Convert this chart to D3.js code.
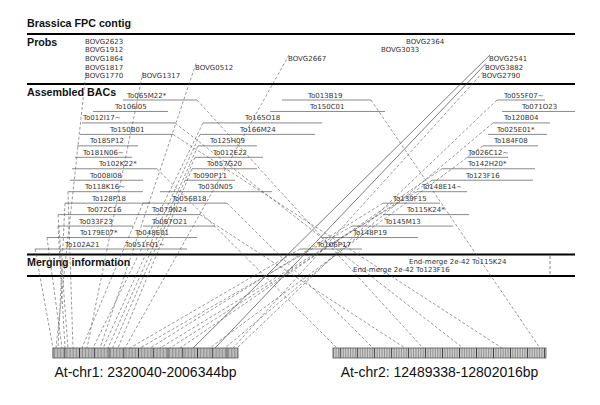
<!DOCTYPE html>
<html><head><meta charset="utf-8">
<script src="https://cdn.jsdelivr.net/npm/d3@7/dist/d3.min.js"></script>
<style>body{margin:0;background:#fff}</style>
</head><body>
<svg id="c" width="600" height="405"></svg>
<script>
// ---------------- data ----------------
const title = "Brassica FPC contig";
const sections = ["Probs", "Assembled BACs", "Merging information"];
const contigLength = 1096; // contig units (CB)

// probes: name, row, contig position
const probes = [
  ["BOVG2623", 0, 116], ["BOVG1912", 1, 116], ["BOVG1864", 2, 116],
  ["BOVG1817", 3, 116], ["BOVG1770", 4, 116], ["BOVG1317", 4, 230],
  ["BOVG0512", 3, 336], ["BOVG2667", 2, 522], ["BOVG2364", 0, 758],
  ["BOVG3033", 1, 708], ["BOVG2541", 2, 924], ["BOVG3882", 3, 916],
  ["BOVG2790", 4, 910]
];

// BACs: name, row, start, end, label position
const bacs = [
  ["To065M22*", 0, 192, 340, 200], ["To013B19", 0, 510, 688, 562], ["To055F07~", 0, 940, 1036, 954],
  ["To106I05", 1, 132, 282, 176], ["To150C01", 1, 486, 716, 566], ["To071O23", 1, 950, 1096, 990],
  ["To012I17~", 2, 110, 296, 112], ["To165O18", 2, 352, 590, 436], ["To120B04", 2, 932, 1046, 954],
  ["To150B01", 3, 106, 292, 166], ["To166M24", 3, 346, 576, 426], ["To025E01*", 3, 922, 1040, 940],
  ["To185P12", 4, 100, 222, 126], ["To125H09", 4, 342, 460, 366], ["To184F08", 4, 912, 1022, 934],
  ["To181N06~", 5, 96, 210, 112], ["To012E22", 5, 336, 472, 372], ["To026C12~", 5, 880, 962, 882],
  ["To102K22*", 6, 90, 260, 144], ["To057G20", 6, 330, 460, 360], ["To142H20*", 6, 830, 1016, 882],
  ["To008I08", 7, 86, 232, 126], ["To090P11", 7, 316, 416, 332], ["To123F16", 7, 810, 1012, 878],
  ["To118K16~", 8, 82, 232, 116], ["To030N05", 8, 266, 490, 342], ["To148E14~", 8, 780, 880, 790],
  ["To128P18", 9, 76, 246, 130], ["To056B18", 9, 232, 400, 290], ["To139F15", 9, 712, 826, 732],
  ["To072C16", 10, 62, 206, 120], ["To079N24", 10, 206, 346, 250], ["To115K24*", 10, 712, 884, 760],
  ["To033F23", 11, 62, 212, 104], ["To087O21", 11, 232, 376, 250], ["To145M13", 11, 650, 852, 716],
  ["To179E07*", 12, 40, 186, 106], ["To048E01", 12, 186, 340, 216], ["To148P19", 12, 592, 782, 652],
  ["To102A21", 13, 16, 166, 76], ["To051F01~", 13, 166, 320, 196], ["To106P17", 13, 546, 670, 580]
];

// merging information: text, row, label position
const merges = [
  ["End-merge 2e-42 To115K24", 0, 764],
  ["End-merge 2e-42 To123F16", 1, 652]
];
const mergeMarker = 1046;

// chromosomes: name, start bp, end bp
const chromosomes = [
  ["At-chr1", 2320040, 2006344],
  ["At-chr2", 12489338, 12802016]
];

// links: source, end (P = probe, L/R = BAC end), chromosome, bp, solid
const links = [
  ["BOVG1770", "P", "At-chr1", 2314950, 0],
  ["BOVG1317", "P", "At-chr1", 2262380, 0],
  ["BOVG0512", "P", "At-chr1", 2240340, 0],
  ["BOVG2667", "P", "At-chr1", 2197950, 0],
  ["BOVG2541", "P", "At-chr1", 2082640, 1],
  ["BOVG3882", "P", "At-chr1", 2045340, 1],
  ["BOVG2790", "P", "At-chr1", 2014820, 0],
  ["To102A21", "L", "At-chr1", 2320040, 0],
  ["To128P18", "L", "At-chr1", 2311560, 0],
  ["To179E07*", "L", "At-chr1", 2304780, 0],
  ["To033F23", "L", "At-chr1", 2299690, 0],
  ["To072C16", "L", "At-chr1", 2294600, 0],
  ["To118K16~", "L", "At-chr1", 2286130, 0],
  ["To165O18", "L", "At-chr1", 2252210, 0],
  ["To166M24", "L", "At-chr1", 2235000, 0],
  ["To125H09", "L", "At-chr1", 2226780, 0],
  ["To012E22", "L", "At-chr1", 2219000, 0],
  ["To057G20", "L", "At-chr1", 2209820, 0],
  ["To056B18", "L", "At-chr1", 2270860, 0],
  ["To055F07~", "L", "At-chr1", 2008030, 0],
  ["To120B04", "L", "At-chr1", 2028380, 0],
  ["To184F08", "L", "At-chr1", 2054000, 0],
  ["To142H20*", "L", "At-chr1", 2104690, 0],
  ["To123F16", "L", "At-chr1", 2121640, 0],
  ["To148E14~", "L", "At-chr1", 2138600, 0],
  ["To139F15", "L", "At-chr1", 2155560, 0],
  ["To145M13", "L", "At-chr1", 2172510, 0],
  ["To106P17", "L", "At-chr1", 2189470, 0],
  ["To013B19", "R", "At-chr2", 12793200, 0],
  ["To150B01", "R", "At-chr2", 12737420, 0],
  ["To012I17~", "R", "At-chr2", 12680170, 0],
  ["To065M22*", "R", "At-chr2", 12621450, 0],
  ["To079N24", "R", "At-chr2", 12595030, 0],
  ["To056B18", "R", "At-chr2", 12548060, 0],
  ["To102K22*", "R", "At-chr2", 12495210, 0]
];
const stripeStep = 2500, majorStep = 25000;

// ---------------- drawing ----------------
const svg = d3.select("#c");
const x = d3.scaleLinear().domain([0, contigLength]).range([27, 575]);
const rowY = d3.scaleLinear().domain([0, 13]).range([100, 249]);
const probeY = d3.scaleLinear().domain([0, 4]).range([43.7, 78.1]);
const mergeY = d3.scaleLinear().domain([0, 1]).range([263.5, 271.5]);
const chrX = {
  "At-chr1": d3.scaleLinear().domain([chromosomes[0][1], chromosomes[0][2]]).range([53, 238]),
  "At-chr2": d3.scaleLinear().domain([chromosomes[1][1], chromosomes[1][2]]).range([333, 546])
};
const chrTop = 348, chrH = 10;

const headFont = "'Liberation Sans', Arial, sans-serif";
const smallFont = "'DejaVu Sans', sans-serif";

svg.append("text").attr("x", 27).attr("y", 27).text(title)
  .attr("font-family", headFont).attr("font-weight", "bold").attr("font-size", 10.7).attr("fill", "#111");

// section rules
[34, 84, 254.5, 276].forEach(y => {
  svg.append("line").attr("x1", x(0)).attr("x2", x(contigLength)).attr("y1", y).attr("y2", y)
    .attr("stroke", "#000").attr("stroke-width", 2);
});
[45.6, 96, 266].forEach((y, i) => {
  svg.append("text").attr("x", 27).attr("y", y).text(sections[i])
    .attr("font-family", headFont).attr("font-weight", "bold").attr("font-size", 10.7).attr("fill", "#111");
});

// BAC lines
svg.append("g").selectAll("line").data(bacs).join("line")
  .attr("x1", d => x(d[2])).attr("x2", d => x(d[3]))
  .attr("y1", d => rowY(d[1])).attr("y2", d => rowY(d[1]))
  .attr("stroke", "#8a8a8a").attr("stroke-width", 1);

// link lines
const probeMap = new Map(probes.map(p => [p[0], p]));
const bacMap = new Map(bacs.map(b => [b[0], b]));
function srcPoint(l) {
  if (l[1] === "P") { const p = probeMap.get(l[0]); return [x(p[2]) + 1, probeY(p[1]) - 6]; }
  const b = bacMap.get(l[0]);
  return [x(l[1] === "L" ? b[2] : b[3]), rowY(b[1])];
}
svg.append("g").selectAll("line").data(links).join("line")
  .attr("x1", d => srcPoint(d)[0]).attr("y1", d => srcPoint(d)[1])
  .attr("x2", d => chrX[d[2]](d[3])).attr("y2", chrTop)
  .attr("stroke", d => d[4] ? "#444" : "#555")
  .attr("stroke-width", d => d[4] ? 0.7 : 0.6)
  .attr("stroke-dasharray", d => d[4] ? null : "3,2");

// merge marker
svg.append("line").attr("x1", x(mergeMarker)).attr("x2", x(mergeMarker)).attr("y1", 256).attr("y2", 275)
  .attr("stroke", "#555").attr("stroke-width", 0.7).attr("stroke-dasharray", "3,2");

// probe labels
svg.append("g").selectAll("text").data(probes).join("text")
  .attr("x", d => x(d[2])).attr("y", d => probeY(d[1])).text(d => d[0])
  .attr("font-family", smallFont).attr("font-size", 7).attr("fill", "#333");

// BAC labels
svg.append("g").selectAll("text").data(bacs).join("text")
  .attr("x", d => x(d[4])).attr("y", d => rowY(d[1]) - 2.5).text(d => d[0])
  .attr("font-family", smallFont).attr("font-size", 7).attr("fill", "#333");

// merge labels
svg.append("g").selectAll("text").data(merges).join("text")
  .attr("x", d => x(d[2])).attr("y", d => mergeY(d[1])).text(d => d[0])
  .attr("font-family", smallFont).attr("font-size", 7).attr("fill", "#333");

// chromosomes
chromosomes.forEach(c => {
  const s = chrX[c[0]];
  const lo = Math.min(c[1], c[2]), hi = Math.max(c[1], c[2]);
  const g = svg.append("g");
  g.append("rect").attr("x", Math.min(s(c[1]), s(c[2]))).attr("y", chrTop)
    .attr("width", Math.abs(s(c[2]) - s(c[1]))).attr("height", chrH)
    .attr("fill", "#e4e4e4");
  const ticks = d3.range(Math.ceil(lo / stripeStep) * stripeStep, hi, stripeStep);
  g.selectAll("line").data(ticks).join("line")
    .attr("x1", d => s(d)).attr("x2", d => s(d)).attr("y1", chrTop).attr("y2", chrTop + chrH)
    .attr("stroke", d => d % majorStep === 0 ? "#222" : "#707070")
    .attr("stroke-width", d => d % majorStep === 0 ? 0.9 : 0.7);
  g.append("rect").attr("x", Math.min(s(c[1]), s(c[2]))).attr("y", chrTop)
    .attr("width", Math.abs(s(c[2]) - s(c[1]))).attr("height", chrH)
    .attr("fill", "none").attr("stroke", "#555").attr("stroke-width", 0.8);
  g.append("text").attr("x", (s(c[1]) + s(c[2])) / 2).attr("y", 377)
    .attr("text-anchor", "middle").text(`${c[0]}: ${c[1]}-${c[2]}bp`)
    .attr("font-family", headFont).attr("font-size", 14).attr("fill", "#111");
});
</script>
</body></html>
